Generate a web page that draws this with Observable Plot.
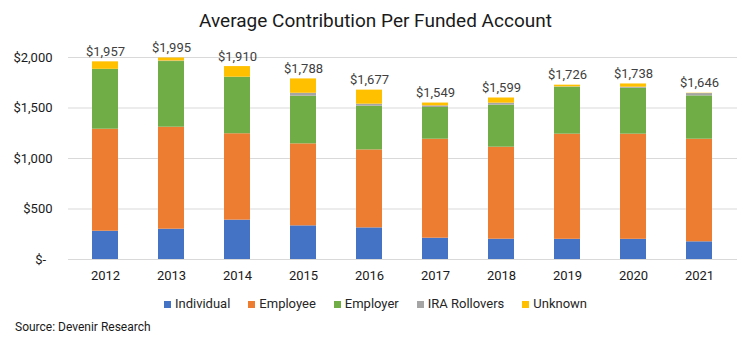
<!DOCTYPE html>
<html>
<head>
<meta charset="utf-8">
<script src="https://cdn.jsdelivr.net/npm/d3@7"></script>
<script src="https://cdn.jsdelivr.net/npm/@observablehq/plot@0.6"></script>
<style>
  html, body { margin: 0; padding: 0; background: #fff; }
  body { width: 751px; height: 350px; position: relative; overflow: hidden; font-family: Roboto, "Noto Sans", sans-serif; }
  #title { position: absolute; top: 9px; left: 0; width: 751px; text-align: center; font-size: 19px; color: #1a1a1a; line-height: 24px; }
  #chart { position: absolute; top: 0; left: 0; }
  #legend { position: absolute; top: 295px; left: 0; width: 751px; display: flex; justify-content: center; font-size: 13px; color: #262626; line-height: 18px; }
  #legend .item { display: flex; align-items: center; margin: 0 9px; }
  #legend .sw { width: 7px; height: 7px; margin-right: 4px; }
  #source { position: absolute; top: 319px; left: 15px; font-size: 12px; color: #1a1a1a; line-height: 16px; }
</style>
</head>
<body>
<div id="chart"></div>
<div id="title">Average Contribution Per Funded Account</div>
<div id="legend"></div>
<div id="source">Source: Devenir Research</div>
<script>
const years = ["2012","2013","2014","2015","2016","2017","2018","2019","2020","2021"];
const seriesNames = ["Individual","Employee","Employer","IRA Rollovers","Unknown"];
const seriesColors = ["#4472C4","#ED7D31","#70AD47","#A5A5A5","#FFC000"];
const individual   = [280, 300, 390, 333, 313, 211, 201, 200, 200, 175];
const employee     = [1010, 1010, 855, 812, 772, 980, 911, 1041, 1041, 1016];
const employer     = [593, 650, 560, 472, 433, 314, 416, 465, 455, 429];
const iraRollovers = [0, 5, 0, 29, 20, 16, 20, 3, 10, 23];
const unknown      = [74, 30, 105, 142, 139, 28, 51, 17, 32, 3];
const totals       = [1957, 1995, 1910, 1788, 1677, 1549, 1599, 1726, 1738, 1646];
const yTicks = [0, 500, 1000, 1500, 2000];

const seriesValues = [individual, employee, employer, iraRollovers, unknown];
const rows = [];
seriesNames.forEach((s, si) => {
  years.forEach((y, yi) => rows.push({year: y, series: s, value: seriesValues[si][yi]}));
});
const totalRows = years.map((y, i) => ({year: y, total: totals[i]}));

const fmt = d3.format(",");
const chart = Plot.plot({
  width: 751,
  height: 290,
  marginLeft: 68,
  marginRight: 14,
  marginTop: 57,
  marginBottom: 31,
  style: {fontFamily: "Roboto, sans-serif", fontSize: "13px", color: "#1a1a1a", overflow: "visible"},
  x: {domain: years, paddingInner: 0.6, paddingOuter: 0.3, label: null, tickSize: 0, tickPadding: 11},
  y: {domain: [0, 2000], ticks: yTicks, label: null, tickSize: 0, tickPadding: 16,
      tickFormat: d => d === 0 ? "$-\u00a0\u00a0" : "$" + fmt(d)},
  color: {domain: seriesNames, range: seriesColors},
  marks: [
    Plot.gridY(yTicks, {stroke: "#d9d9d9", strokeOpacity: 1, strokeWidth: 1}),
    Plot.barY(rows, {x: "year", y: "value", fill: "series", order: seriesNames}),
    Plot.text(totalRows, {x: "year", y: "total", text: d => "$" + fmt(d.total), lineAnchor: "bottom", dy: -6, fill: "#404040", fontSize: 13}),
    Plot.axisX({tickSize: 0, tickPadding: 11, fill: "#1a1a1a"}),
    Plot.axisY({ticks: yTicks, tickSize: 0, tickPadding: 16, fill: "#1a1a1a", tickFormat: d => d === 0 ? "$-\u00a0\u00a0" : "$" + fmt(d)})
  ]
});
document.getElementById("chart").appendChild(chart);

const legend = document.getElementById("legend");
seriesNames.forEach((s, i) => {
  const item = document.createElement("div");
  item.className = "item";
  const sw = document.createElement("span");
  sw.className = "sw";
  sw.style.background = seriesColors[i];
  const t = document.createElement("span");
  t.textContent = s;
  item.appendChild(sw);
  item.appendChild(t);
  legend.appendChild(item);
});
</script>
</body>
</html>
